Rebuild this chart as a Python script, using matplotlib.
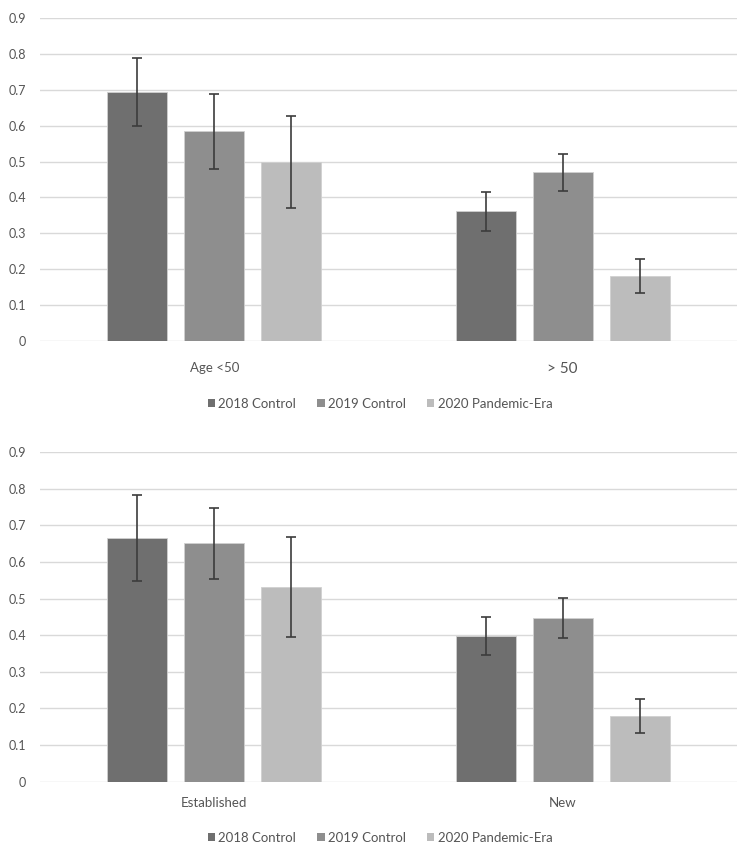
import numpy as np
import matplotlib.pyplot as plt
from matplotlib.patches import Patch

plt.rcParams['font.family'] = ['Lato', 'DejaVu Sans']

series = ['2018 Control', '2019 Control', '2020 Pandemic-Era']
colors = ['#6f6f6f', '#8e8e8e', '#bcbcbc']

# panel 1: age
age_cats = ['Age <50', '> 50']
age_vals = [[0.693, 0.361], [0.584, 0.470], [0.500, 0.181]]
age_err = [[0.095, 0.054], [0.104, 0.052], [0.128, 0.047]]

# panel 2: patient type
type_cats = ['Established', 'New']
type_vals = [[0.665, 0.398], [0.651, 0.447], [0.532, 0.179]]
type_err = [[0.117, 0.051], [0.096, 0.054], [0.136, 0.047]]

yticks = [0, 0.1, 0.2, 0.3, 0.4, 0.5, 0.6, 0.7, 0.8, 0.9]

fig = plt.figure(figsize=(7.47, 8.51), dpi=100)
ax1 = fig.add_axes([0.0535, 0.5993, 0.933, 0.3795])
ax2 = fig.add_axes([0.0535, 0.0815, 0.933, 0.3870])

width = 0.172
step = 0.221


def draw_panel(ax, cats, vals, errs, label_sizes, xpad):
    x = np.arange(len(cats))
    for i in range(len(series)):
        ax.bar(x + (i - 1) * step, vals[i], width, color=colors[i],
               edgecolor='#d0d0d0', linewidth=0.6, zorder=2,
               yerr=errs[i], ecolor='#3c3c3c',
               error_kw=dict(elinewidth=1.2, capsize=3.5, capthick=1.2, zorder=3))
    ax.set_xlim(-0.5, len(cats) - 0.5)
    ax.set_ylim(0, 0.9)
    ax.set_yticks(yticks)
    ax.set_yticklabels(['0' if v == 0 else f'{v:.1f}' for v in yticks])
    ax.set_xticks(x)
    ax.set_xticklabels(cats, color='#555555')
    for lab, fs in zip(ax.get_xticklabels(), label_sizes):
        lab.set_fontsize(fs)
    ax.tick_params(axis='y', length=0, pad=10, labelsize=9, labelcolor='#555555')
    ax.tick_params(axis='x', length=0, pad=xpad)
    for s in ax.spines.values():
        s.set_visible(False)
    ax.yaxis.grid(True, color='#d9d9d9', linewidth=1.0, zorder=0)
    ax.set_axisbelow(True)


draw_panel(ax1, age_cats, age_vals, age_err, [9.5, 11], 15)
draw_panel(ax2, type_cats, type_vals, type_err, [9.5, 9.5], 11)

handles = [Patch(facecolor=c, edgecolor='none') for c in colors]
for yy in [1 - 404 / 851, 1 - 838 / 851]:
    fig.legend(handles, series, loc='center', bbox_to_anchor=(380 / 747, yy),
               ncol=3, frameon=False, fontsize=9.5, labelcolor='#555555',
               handlelength=0.55, handleheight=0.55, handletextpad=0.25,
               columnspacing=1.6)

fig.savefig('out.png', dpi=100, facecolor='white')
